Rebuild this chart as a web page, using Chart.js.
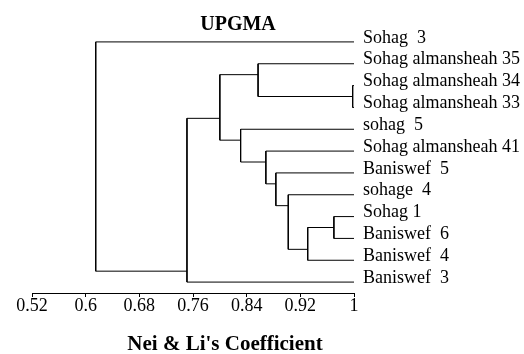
<!DOCTYPE html>
<html>
<head>
<meta charset="utf-8">
<script src="https://cdn.jsdelivr.net/npm/chart.js@4.4.0/dist/chart.umd.min.js"></script>
<style>
  body { margin: 0; background: #fff; }
  #wrap { width: 524px; height: 354px; position: relative; }
</style>
</head>
<body>
<div id="wrap"><canvas id="chart"></canvas></div>
<script>
// leaves, top to bottom
const leafNames = [
  'Sohag  3',
  'Sohag almansheah 35',
  'Sohag almansheah 34',
  'Sohag almansheah 33',
  'sohag  5',
  'Sohag almansheah 41',
  'Baniswef  5',
  'sohage  4',
  'Sohag 1',
  'Baniswef  6',
  'Baniswef  4',
  'Baniswef  3'
]

// UPGMA joins: L = leaf index, N = earlier join
const mergeLeft = ['L8', 'N0', 'L7', 'L6', 'L5', 'L4', 'L2', 'L1', 'N7', 'N8', 'L0']
const mergeRight = ['L9', 'L10', 'N1', 'N2', 'N3', 'N4', 'L3', 'N6', 'N5', 'L11', 'N9']
const mergeCoef = [0.970, 0.931, 0.902, 0.8835, 0.8686, 0.831, 0.998, 0.857, 0.800, 0.751, 0.615]

const tickValues = [0.52, 0.6, 0.68, 0.76, 0.84, 0.92, 1]
const chartTitle = 'UPGMA'
const axisTitle = "Nei & Li's Coefficient"

const serif = '"Liberation Serif", "Times New Roman", serif'

// walk the joins to get where each branch hangs
function info(ref) {
  const i = Number(ref.slice(1))
  if (ref[0] === 'L') return { x: 1, y: i, first: i, last: i }
  const a = info(mergeLeft[i])
  const b = info(mergeRight[i])
  return { x: mergeCoef[i], y: a.last + 0.5, first: a.first, last: b.last }
}

const datasets = mergeCoef.map((c, i) => {
  const a = info(mergeLeft[i])
  const b = info(mergeRight[i])
  return {
    data: [
      { x: a.x, y: a.y },
      { x: c, y: a.y },
      { x: c, y: b.y },
      { x: b.x, y: b.y }
    ],
    borderColor: '#000',
    borderWidth: 1,
    pointRadius: 0,
    tension: 0,
    fill: false
  }
})

const titles = {
  id: 'titles',
  afterDraw(chart) {
    const ctx = chart.ctx
    ctx.save()
    ctx.fillStyle = '#000'
    ctx.textAlign = 'center'
    ctx.textBaseline = 'middle'
    ctx.font = 'bold 20px ' + serif
    ctx.fillText(chartTitle, 238, 25)
    ctx.font = 'bold 21px ' + serif
    ctx.fillText(axisTitle, 225, 345)
    ctx.restore()
  }
}

new Chart(document.getElementById('chart'), {
  type: 'line',
  data: { datasets },
  plugins: [titles],
  options: {
    responsive: true,
    maintainAspectRatio: false,
    animation: false,
    layout: { padding: { top: 31, left: 32, right: 0, bottom: 0 } },
    plugins: {
      legend: { display: false },
      tooltip: { enabled: false }
    },
    scales: {
      x: {
        type: 'linear',
        min: 0.52,
        max: 1,
        afterBuildTicks: s => { s.ticks = tickValues.map(v => ({ value: v })) },
        afterFit: s => { s.height = 61 },
        grid: { drawOnChartArea: false, drawTicks: true, tickLength: 4, color: '#000' },
        border: { display: true, color: '#000', width: 1 },
        ticks: {
          autoSkip: false,
          maxRotation: 0,
          padding: 0,
          color: '#000',
          font: { family: serif, size: 18, lineHeight: 1 },
          callback: v => String(v)
        }
      },
      y: {
        type: 'linear',
        position: 'right',
        reverse: true,
        min: -0.5,
        max: 11.5,
        afterBuildTicks: s => { s.ticks = leafNames.map((_, i) => ({ value: i })) },
        afterFit: s => { s.width = 170 },
        grid: { display: false, drawTicks: false, tickLength: 0 },
        border: { display: false },
        ticks: {
          autoSkip: false,
          padding: 9,
          labelOffset: -4,
          color: '#000',
          font: { family: serif, size: 18 },
          callback: v => leafNames[v]
        }
      }
    }
  }
})
</script>
</body>
</html>
